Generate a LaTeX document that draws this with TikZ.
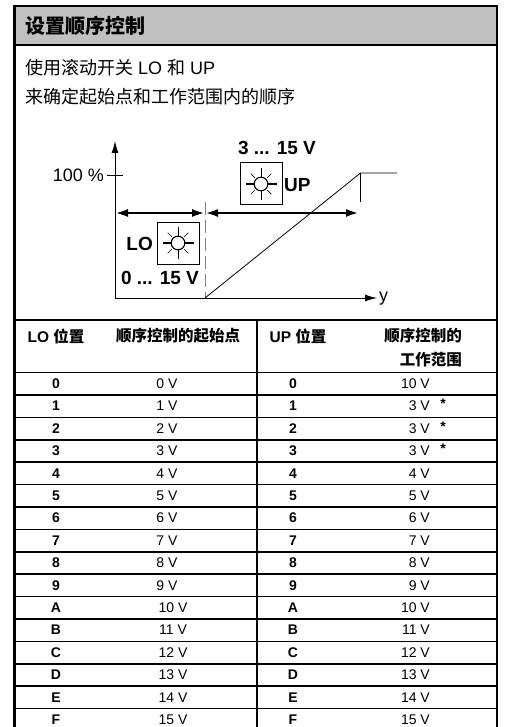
\documentclass[tikz,border=0pt]{standalone}
\usepackage{fontspec}
\setmainfont{Liberation Sans}
\newfontfamily\cjk{Noto Sans CJK SC}
\usetikzlibrary{arrows.meta}
\definecolor{hdrgray}{HTML}{C0C0C0}
\definecolor{dashgray}{HTML}{808080}
\tikzset{
  frame/.style={line width=2.5pt},
  rule/.style={line width=1.6pt},
  titletext/.style={font=\cjk\bfseries\fontsize{20}{22}\selectfont, inner sep=0pt},
  introtext/.style={font=\fontsize{18}{20}\selectfont, inner sep=0pt},
  headtext/.style={font=\bfseries\fontsize{15.5}{17}\selectfont, inner sep=0pt},
  celltext/.style={font=\fontsize{14}{16}\selectfont, inner sep=0pt, text height=10pt, text depth=0pt},
  cellbold/.style={font=\bfseries\fontsize{14}{16}\selectfont, inner sep=0pt, text height=10pt, text depth=0pt},
  difflabel/.style={font=\bfseries\fontsize{19}{21}\selectfont, inner sep=0pt},
  axislabel/.style={font=\fontsize{18}{20}\selectfont, inner sep=0pt},
  axisline/.style={line width=1pt, -{Latex[length=12pt,width=7pt]}},
  rangearrow/.style={line width=2.6pt, {Latex[length=13pt,width=8pt]}-{Latex[length=13pt,width=8pt]}},
  thinline/.style={line width=0.8pt},
  iconbox/.style={draw, line width=1pt, minimum width=42pt, minimum height=42pt, inner sep=0pt},
  sunicon/.pic={
    \draw[line width=1.1pt] (0,0) circle (6.8);
    \draw[line width=2pt] (-6.8,0) -- (-15.5,0) (6.8,0) -- (15.5,0);
    \draw[line width=1pt] (0,-6.8) -- (0,-16) (0,6.8) -- (0,16);
    \foreach \a in {45,135,225,315} \draw[line width=0.7pt] (\a:8.8) -- (\a:14.5);
  }
}
\begin{document}
\begin{tikzpicture}[x=1pt,y=-1pt]
\useasboundingbox (0,0) rectangle (504,727);
% header band
\fill[hdrgray] (14.5,6) rectangle (497,45);
\draw[line width=2pt] (14.5,45) -- (497,45);
\draw[frame] (14.5,728) -- (14.5,6) -- (497,6) -- (497,728);
\node[titletext, anchor=west] (title) at (25,26) {设置顺序控制};
% intro text
\node[introtext, anchor=west] (intro1) at (25,68) {{\cjk 使用滚动开关} LO {\cjk 和} UP};
\node[introtext, anchor=west] (intro2) at (25,97) {\cjk 来确定起始点和工作范围内的顺序};
% diagram
\coordinate (O) at (115,298);
\coordinate (ytop) at (115,141);
\coordinate (xend) at (377,298);
\draw[axisline] (O) -- (ytop);
\draw[axisline] (O) -- (xend);
\node[axislabel, anchor=west] (ylab) at (379,299) {y};
\coordinate (tickL) at (107,175);
\coordinate (tickR) at (123,175);
\draw[thinline] (tickL) -- (tickR);
\node[axislabel, anchor=east] (pct) at (104,175) {100 \%};
% split line
\coordinate (splitTop) at (205,202);
\coordinate (splitBot) at (205,298);
\draw[dashgray, line width=1pt, dash pattern=on 13pt off 5pt] (splitTop) -- (splitBot);
% ramp
\coordinate (rampTop) at (360.5,173);
\coordinate (rampEnd) at (397,173);
\coordinate (stepBot) at (360.5,202);
\draw[thinline] (splitBot) -- (rampTop) -- (rampEnd);
\draw[thinline] (rampTop) -- (stepBot);
% range arrows
\coordinate (aL) at (115,213);
\coordinate (aM) at (205,213);
\coordinate (aR) at (359,213);
\draw[rangearrow] (aL) -- (aM);
\draw[rangearrow] (aM) -- (aR);
% LO box
\node[iconbox] (lobox) at (178,243) {};
\pic at (lobox.center) {sunicon};
\node[difflabel, anchor=east] (lolab) at (153,244) {LO};
\node[difflabel] (lorange) at (160,278) {0 ... 15 V};
% UP box
\node[iconbox] (upbox) at (261,184) {};
\pic at (upbox.center) {sunicon};
\node[difflabel, anchor=west] (uplab) at (284,185) {UP};
\node[difflabel] (uprange) at (277,148) {3 ... 15 V};
% table
\draw[line width=2pt] (14.5,320) -- (497,320);
\draw[line width=2pt] (256.5,320) -- (256.5,728);
\foreach \k in {0,...,15} {
  \pgfmathsetmacro\ly{372.5+22.4*\k}
  \draw[rule] (14.5,\ly) -- (497,\ly);
}
\node[headtext] (h1) at (56,336) {LO {\cjk 位置}};
\node[headtext] (h2) at (178,336) {\cjk 顺序控制的起始点};
\node[headtext] (h3) at (298,336) {UP {\cjk 位置}};
\node[headtext, anchor=east] (h4a) at (462,336) {\cjk 顺序控制的};
\node[headtext, anchor=east] (h4b) at (462,360) {\cjk 工作范围};
\foreach \lab/\lv/\uv [count=\i from 0] in {0/0/10,1/1/3,2/2/3,3/3/3,4/4/4,5/5/5,6/6/6,7/7/7,8/8/8,9/9/9,A/10/10,B/11/11,C/12/12,D/13/13,E/14/14,F/15/15} {
  \pgfmathsetmacro\ry{383.4+22.4*\i}
  \ifnum\lv<10 \def\lx{167}\else\def\lx{173}\fi
  \node[cellbold] (lol\i) at (56,\ry) {\lab};
  \node[celltext] (lov\i) at (\lx,\ry) {\lv\ V};
  \node[cellbold] (upl\i) at (293,\ry) {\lab};
  \node[celltext, anchor=east] (upv\i) at (430,\ry) {\uv\ V};
  \ifnum\i>0 \ifnum\i<4
    \node[cellbold] (star\i) at (443,\ry-2) {*};
  \fi\fi
}
\end{tikzpicture}
\end{document}
